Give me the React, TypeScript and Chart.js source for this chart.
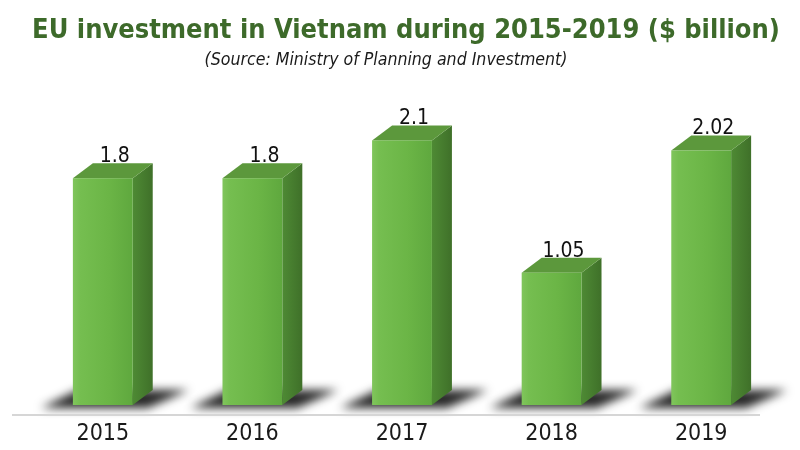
import { useEffect, useRef } from "react";
import { Chart, registerables } from "chart.js";

Chart.register(...registerables);

const categories = ["2015", "2016", "2017", "2018", "2019"];
const investment = [1.8, 1.8, 2.1, 1.05, 2.02];
const valueLabels = ["1.8", "1.8", "2.1", "1.05", "2.02"];
const titleText = "EU investment in Vietnam during 2015-2019 ($ billion)";
const subtitleText = "(Source: Ministry of Planning and Investment)";

const NARROW = '"Liberation Sans Narrow", "DejaVu Sans Condensed", "Liberation Sans", sans-serif';

function fitFont(ctx: CanvasRenderingContext2D, text: string, style: string, width: number) {
  ctx.font = `${style} 100px ${NARROW}`;
  const w = ctx.measureText(text).width;
  return (100 * width) / w;
}

const bars3d = {
  id: "bars3d",
  beforeDatasetsDraw(chart: any) {
    const ctx = chart.ctx as CanvasRenderingContext2D;
    const meta = chart.getDatasetMeta(0);
    const dx = 20;
    meta.data.forEach((el: any) => {
      const w = el.width;
      const L = el.x - w / 2, R = el.x + w / 2;
      const base = el.base;
      ctx.save();
      ctx.filter = "blur(5px)";
      ctx.fillStyle = "rgba(15,15,15,0.9)";
      ctx.beginPath();
      ctx.moveTo(L - 32, base + 3);
      ctx.lineTo(L + 5, base - 15);
      ctx.lineTo(R + dx + 36, base - 15);
      ctx.lineTo(R + dx - 5, base + 3);
      ctx.closePath();
      ctx.fill();
      ctx.restore();
    });
  },
  afterDatasetsDraw(chart: any) {
    const ctx = chart.ctx as CanvasRenderingContext2D;
    const meta = chart.getDatasetMeta(0);
    const dx = 20, dy = 15;
    meta.data.forEach((el: any, i: number) => {
      const w = el.width;
      const L = el.x - w / 2, R = el.x + w / 2;
      const top = el.y, base = el.base;
      ctx.save();
      const sg = ctx.createLinearGradient(R, 0, R + dx, 0);
      sg.addColorStop(0, "#4e8a34");
      sg.addColorStop(1, "#3f7029");
      ctx.fillStyle = sg;
      ctx.beginPath();
      ctx.moveTo(R, top);
      ctx.lineTo(R + dx, top - dy);
      ctx.lineTo(R + dx, base - dy);
      ctx.lineTo(R, base);
      ctx.closePath();
      ctx.fill();
      ctx.fillStyle = "#5c983c";
      ctx.beginPath();
      ctx.moveTo(L, top);
      ctx.lineTo(L + dx, top - dy);
      ctx.lineTo(R + dx, top - dy);
      ctx.lineTo(R, top);
      ctx.closePath();
      ctx.fill();
      const fg = ctx.createLinearGradient(L, 0, R, 0);
      fg.addColorStop(0, "#80c55c");
      fg.addColorStop(0.12, "#75be50");
      fg.addColorStop(0.6, "#6bb546");
      fg.addColorStop(1, "#5fa83e");
      ctx.fillStyle = fg;
      ctx.fillRect(L, top, w, base - top);
      ctx.fillStyle = "#111";
      ctx.font = `21px ${NARROW}`;
      ctx.textAlign = "center";
      ctx.textBaseline = "alphabetic";
      ctx.fillText(valueLabels[i], el.x + 12, top - dy - 1);
      ctx.restore();
    });
    const a = chart.chartArea;
    ctx.save();
    ctx.strokeStyle = "#d6d6d6";
    ctx.lineWidth = 2;
    ctx.beginPath();
    ctx.moveTo(a.left - 16, a.bottom + 10);
    ctx.lineTo(a.right - 16, a.bottom + 10);
    ctx.stroke();
    ctx.restore();
  },
  afterDraw(chart: any) {
    const ctx = chart.ctx as CanvasRenderingContext2D;
    ctx.save();
    ctx.textAlign = "center";
    ctx.textBaseline = "alphabetic";
    const ts = fitFont(ctx, titleText, "bold", 748);
    ctx.font = `bold ${ts}px ${NARROW}`;
    ctx.fillStyle = "#3d6a2a";
    ctx.fillText(titleText, 406, 38);
    const ss = fitFont(ctx, subtitleText, "italic", 363);
    ctx.font = `italic ${ss}px ${NARROW}`;
    ctx.fillStyle = "#1a1a1a";
    ctx.fillText(subtitleText, 386, 65);
    ctx.restore();
  },
};

export default function App() {
  const ref = useRef<HTMLCanvasElement>(null);
  useEffect(() => {
    const chart = new Chart(ref.current!, {
      type: "bar",
      data: {
        labels: categories,
        datasets: [
          {
            data: investment,
            backgroundColor: "rgba(0,0,0,0)",
            borderWidth: 0,
            categoryPercentage: 0.4,
            barPercentage: 1,
          },
        ],
      },
      options: {
        animation: false,
        responsive: false,
        layout: { padding: { top: 90, left: 28, right: 24, bottom: 0 } },
        plugins: { legend: { display: false }, title: { display: false }, tooltip: { enabled: false } },
        scales: {
          y: { display: false, min: 0, max: 2.5 },
          x: {
            grid: { display: false, drawTicks: false },
            border: { display: false },
            ticks: { color: "#1a1a1a", font: { family: NARROW, size: 23 }, padding: 15 },
            afterFit: (axis: any) => {
              axis.height = 45;
            },
          },
        },
      },
      plugins: [bars3d],
    });
    return () => chart.destroy();
  }, []);
  return (
    <div style={{ position: "absolute", left: 0, top: 0, width: 800, height: 450, background: "#fff" }}>
      <canvas ref={ref} width={800} height={450} />
    </div>
  );
}
